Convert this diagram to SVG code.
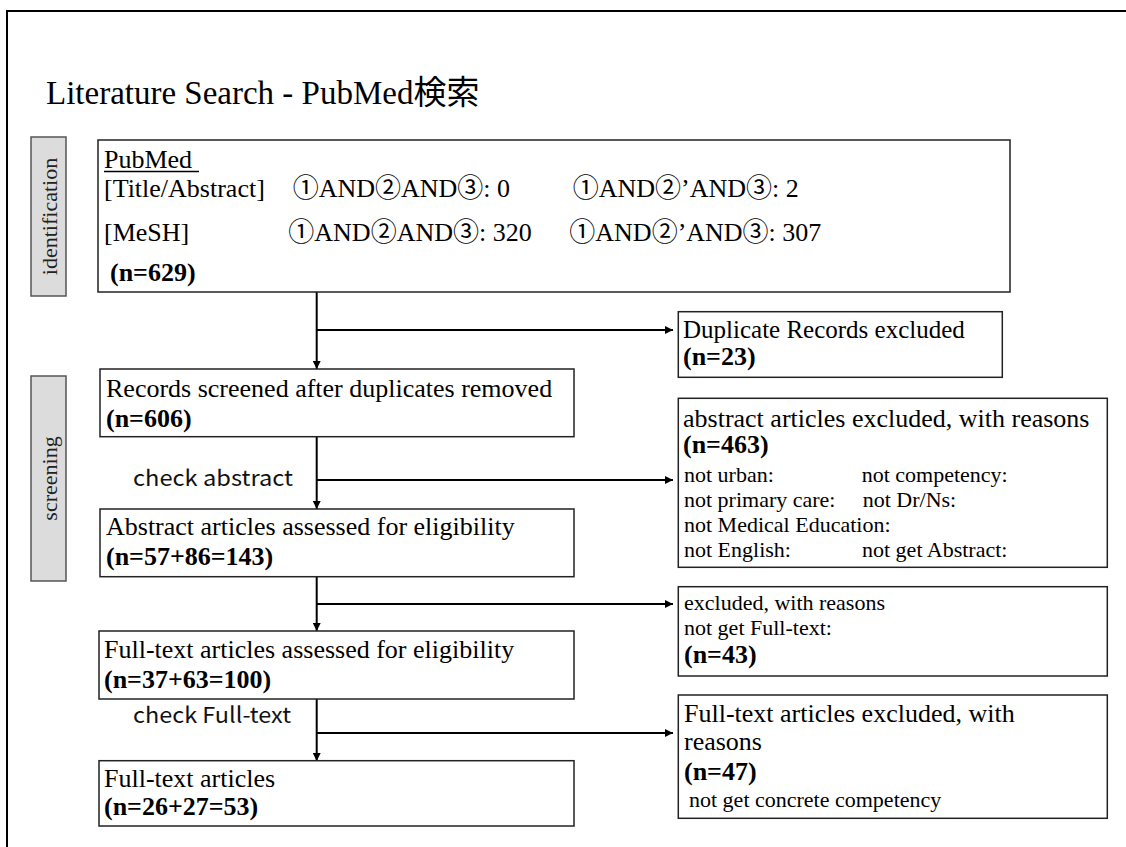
<svg xmlns="http://www.w3.org/2000/svg" width="1126" height="847" viewBox="0 0 1126 847">
<defs>
<marker id="arr" viewBox="0 0 10 10" refX="10" refY="5" markerWidth="9" markerHeight="8" markerUnits="userSpaceOnUse" orient="auto">
<path d="M0,0 L10,5 L0,10 z" fill="#000"/>
</marker>
<style>
.box{fill:#fff;stroke:#222;stroke-width:1.5}
.lbl{fill:#dcdcdc;stroke:#555;stroke-width:1.5}
.t{font-family:"Liberation Serif","Noto Sans CJK JP",serif;fill:#000}
.b{font-weight:bold}
.s26{font-size:26px}
.s25{font-size:25px}
.s22{font-size:22px}
.g{font-family:"Noto Sans CJK JP","Noto Sans",sans-serif;font-size:22px;fill:#111}
.lt{font-family:"Liberation Serif",serif;font-size:22px;fill:#222}
.c{fill:none;stroke:#000;stroke-width:2}
</style>
</defs>
<rect width="1126" height="847" fill="#fff"/>
<rect x="7" y="11" width="1200" height="900" fill="none" stroke="#000" stroke-width="2"/>
<text class="t" x="46" y="104" font-size="33">Literature Search - PubMed<tspan font-family="Noto Sans CJK JP,sans-serif">検索</tspan></text>

<g id="label-identification">
<rect class="lbl" x="31" y="137" width="35" height="159"/>
<text class="lt" transform="translate(57,216.5) rotate(-90)" text-anchor="middle">identification</text>
</g>
<g id="label-screening">
<rect class="lbl" x="31" y="376" width="35" height="205"/>
<text class="lt" transform="translate(57,478.5) rotate(-90)" text-anchor="middle">screening</text>
</g>

<g id="connectors">
<line class="c" x1="316.7" y1="292" x2="316.7" y2="369" marker-end="url(#arr)"/>
<line class="c" x1="316.7" y1="330" x2="673" y2="330" marker-end="url(#arr)"/>
<line class="c" x1="316.7" y1="437" x2="316.7" y2="509" marker-end="url(#arr)"/>
<line class="c" x1="316.7" y1="480" x2="673" y2="480" marker-end="url(#arr)"/>
<line class="c" x1="316.7" y1="577" x2="316.7" y2="631" marker-end="url(#arr)"/>
<line class="c" x1="316.7" y1="604" x2="673" y2="604" marker-end="url(#arr)"/>
<line class="c" x1="316.7" y1="699" x2="316.7" y2="761" marker-end="url(#arr)"/>
<line class="c" x1="316.7" y1="733" x2="673" y2="733" marker-end="url(#arr)"/>
<text class="g" x="133" y="486" textLength="160" lengthAdjust="spacingAndGlyphs">check abstract</text>
<text class="g" x="133" y="723" textLength="158" lengthAdjust="spacingAndGlyphs">check Full-text</text>
</g>

<g id="node-pubmed">
<rect class="box" x="98" y="140" width="912" height="152"/>
<text class="t s26" x="104" y="168">PubMed</text>
<line x1="104" y1="171.5" x2="199" y2="171.5" stroke="#000" stroke-width="1.3"/>
<text class="t s26" x="104" y="197">[Title/Abstract]</text>
<text class="t s26" x="292.7" y="197">①AND②AND③: 0</text>
<text class="t s26" x="572.7" y="197">①AND②’AND③: 2</text>
<text class="t s26" x="104" y="240.5">[MeSH]</text>
<text class="t s26" x="288.3" y="240.5">①AND②AND③: 320</text>
<text class="t s26" x="569.3" y="240.5">①AND②’AND③: 307</text>
<text class="t s26 b" x="110" y="281">(n=629)</text>
</g>

<g id="node-duplicates">
<rect class="box" x="678.3" y="311.7" width="324" height="65.6"/>
<text class="t s25" x="683" y="338.3">Duplicate Records excluded</text>
<text class="t s26 b" x="683" y="365">(n=23)</text>
</g>

<g id="node-records">
<rect class="box" x="100" y="369" width="474" height="67.7"/>
<text class="t s26" x="106" y="396.7">Records screened after duplicates removed</text>
<text class="t s26 b" x="106" y="426.7">(n=606)</text>
</g>

<g id="node-abstract-excluded">
<rect class="box" x="678.3" y="398.3" width="429" height="169"/>
<text class="t s26" x="683" y="426.7">abstract articles excluded, with reasons</text>
<text class="t s26 b" x="683" y="453">(n=463)</text>
<text class="t s22" x="684" y="481.7">not urban:</text>
<text class="t s22" x="861.7" y="481.7">not competency:</text>
<text class="t s22" x="684" y="506.7">not primary care:</text>
<text class="t s22" x="862.7" y="506.7">not Dr/Ns:</text>
<text class="t s22" x="684" y="531.7">not Medical Education:</text>
<text class="t s22" x="684" y="556.7">not English:</text>
<text class="t s22" x="862" y="556.7">not get Abstract:</text>
</g>

<g id="node-abstract-assessed">
<rect class="box" x="100" y="509" width="474" height="67.7"/>
<text class="t s26" x="106" y="535">Abstract articles assessed for eligibility</text>
<text class="t s26 b" x="106" y="565">(n=57+86=143)</text>
</g>

<g id="node-fulltext-notget">
<rect class="box" x="678.3" y="586.7" width="429" height="89.3"/>
<text class="t s22" x="684" y="610">excluded, with reasons</text>
<text class="t s22" x="684" y="635">not get Full-text:</text>
<text class="t s26 b" x="684" y="663.3">(n=43)</text>
</g>

<g id="node-fulltext-assessed">
<rect class="box" x="99" y="631" width="475" height="68"/>
<text class="t s26" x="104" y="658.3">Full-text articles assessed for eligibility</text>
<text class="t s26 b" x="104" y="688.3">(n=37+63=100)</text>
</g>

<g id="node-fulltext-excluded">
<rect class="box" x="678.3" y="695" width="429" height="123.3"/>
<text class="t s26" x="684" y="721.7">Full-text articles excluded, with</text>
<text class="t s26" x="684" y="750">reasons</text>
<text class="t s26 b" x="684" y="780">(n=47)</text>
<text class="t s22" x="689" y="806.7">not get concrete competency</text>
</g>

<g id="node-fulltext-final">
<rect class="box" x="99" y="760.7" width="475" height="65.3"/>
<text class="t s26" x="104" y="786.7">Full-text articles</text>
<text class="t s26 b" x="104" y="815">(n=26+27=53)</text>
</g>
</svg>
